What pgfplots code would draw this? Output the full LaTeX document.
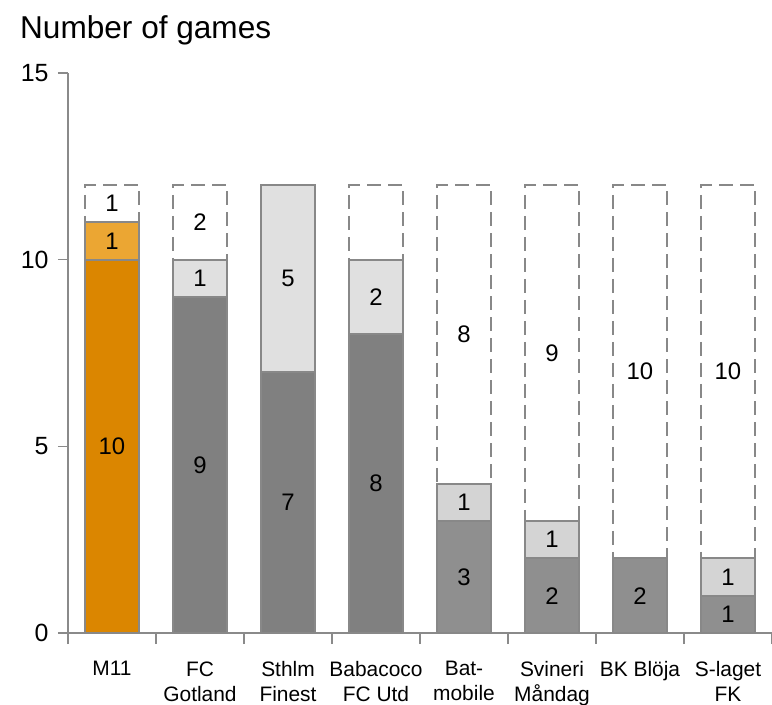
\documentclass[border=0pt]{standalone}
\usepackage{pgfplots}
\pgfplotsset{compat=1.18}
\usepackage{fontspec}
\setmainfont{Liberation Sans}
\definecolor{orgdark}{HTML}{DB8600}
\definecolor{orglight}{HTML}{EBA633}
\definecolor{gdarkA}{HTML}{808080}
\definecolor{glightA}{HTML}{E0E0E0}
\definecolor{gdarkB}{HTML}{8F8F8F}
\definecolor{glightB}{HTML}{D4D4D4}
\definecolor{edge}{HTML}{888888}
\definecolor{axisgray}{HTML}{8A8A8A}
\begin{document}
\begin{tikzpicture}
\path[use as bounding box] (-68bp,-72bp) rectangle (704bp,633bp);
\begin{axis}[
  at={(0,0)}, anchor=south west,
  scale only axis, width=704bp, height=560bp,
  xmin=-0.5, xmax=7.5, ymin=0, ymax=15,
  axis lines*=left,
  axis line style={draw=axisgray, line width=1.6bp},
  /pgf/number format/assume math mode=true,
  ytick={0,5,10,15},
  yticklabel style={font=\fontsize{25}{28}\selectfont, xshift=-6bp},
  xtick={0,...,7},
  xticklabels={M11, FC\\Gotland, Sthlm\\Finest, Babacoco\\FC Utd, Bat-\\mobile, Svineri\\Måndag, BK Blöja, S-laget\\FK},
  xticklabel style={align=center, anchor=north, font=\fontsize{21}{25}\selectfont, yshift=-15bp},
  major x tick style={draw=none},
  minor xtick={-0.5,0.5,...,7.5},
  tick align=outside,
  major tick length=10bp, minor tick length=11bp,
  every tick/.style={draw=axisgray, line width=1.4bp},
  minor tick style={draw=axisgray, line width=1.4bp},
  clip=false,
]
% remaining (dashed)
\addplot[ybar, bar width=0.62, bar shift=0pt, fill=white, draw=edge, line width=1.8bp, dash pattern=on 14bp off 7bp]
  coordinates {(0,12) (1,12) (3,12) (4,12) (5,12) (6,12) (7,12)};
% draws (light)
\addplot[ybar, bar width=0.62, bar shift=0pt, fill=orglight, draw=edge, line width=1.8bp]
  coordinates {(0,11)};
\addplot[ybar, bar width=0.62, bar shift=0pt, fill=glightA, draw=edge, line width=1.8bp]
  coordinates {(1,10) (2,12) (3,10)};
\addplot[ybar, bar width=0.62, bar shift=0pt, fill=glightB, draw=edge, line width=1.8bp]
  coordinates {(4,4) (5,3) (7,2)};
% wins (dark)
\addplot[ybar, bar width=0.62, bar shift=0pt, fill=orgdark, draw=edge, line width=1.8bp]
  coordinates {(0,10)};
\addplot[ybar, bar width=0.62, bar shift=0pt, fill=gdarkA, draw=edge, line width=1.8bp]
  coordinates {(1,9) (2,7) (3,8)};
\addplot[ybar, bar width=0.62, bar shift=0pt, fill=gdarkB, draw=edge, line width=1.8bp]
  coordinates {(4,3) (5,2) (6,2) (7,1)};
% value labels
\addplot[draw=none, mark=none, nodes near coords, point meta=explicit symbolic,
  every node near coord/.append style={anchor=center, font=\fontsize{24}{27}\selectfont, text=black}]
  table[meta=l] {
x y l
0 5 10
0 10.5 1
0 11.5 1
1 4.5 9
1 9.5 1
1 11 2
2 3.5 7
2 9.5 5
3 4 8
3 9 2
4 1.5 3
4 3.5 1
4 8 8
5 1 2
5 2.5 1
5 7.5 9
6 1 2
6 7 10
7 0.5 1
7 1.5 1
7 7 10
};
\node[anchor=west, font=\fontsize{31.7}{34}\selectfont, inner sep=0pt] at ([xshift=-48bp, yshift=43bp]rel axis cs:0,1) {Number of games};
\end{axis}
\end{tikzpicture}
\end{document}
